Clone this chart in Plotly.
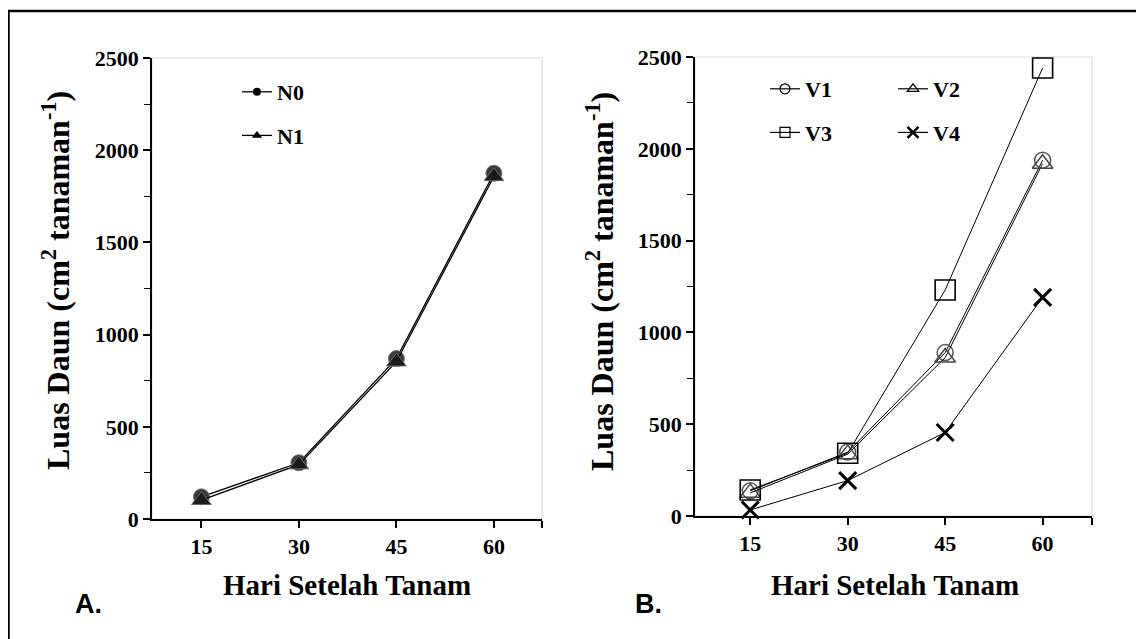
import plotly.graph_objects as go

days = [15, 30, 45, 60]
n0 = [120, 305, 870, 1875]
n1 = [102, 295, 853, 1858]
v1 = [137, 348, 890, 1938]
v2 = [126, 337, 863, 1919]
v3 = [142, 342, 1231, 2440]
v4 = [33, 193, 455, 1191]
y_ticks = [0, 500, 1000, 1500, 2000, 2500]

W, H = 1144, 639
OFF = 8  # page body margin of the viewer
SERIF = "Liberation Serif"

fig = go.Figure()

def px_x(p):
    return (p - OFF) / W

def px_y(p):
    return 1 - (p - OFF) / H

# ---- Panel A ----
fig.add_trace(go.Scatter(x=days, y=n0, mode="lines+markers", xaxis="x", yaxis="y",
                         line=dict(color="black", width=1.3),
                         marker=dict(symbol="circle", size=16, color="#3a3a3a",
                                     line=dict(color="#777", width=1)),
                         showlegend=False, cliponaxis=False))
fig.add_trace(go.Scatter(x=days, y=n1, mode="lines+markers", xaxis="x", yaxis="y",
                         line=dict(color="black", width=1.3),
                         marker=dict(symbol="triangle-up", size=17, color="#1a1a1a",
                                     line=dict(color="#666", width=1)),
                         showlegend=False, cliponaxis=False))
# legend entries A
fig.add_trace(go.Scatter(x=[None], y=[None], mode="lines+markers", name="N0", legend="legend",
                         legendgroup="a0", xaxis="x", yaxis="y",
                         line=dict(color="black", width=1.3),
                         marker=dict(symbol="circle", size=8, color="black")))
fig.add_trace(go.Scatter(x=[None], y=[None], mode="lines+markers", name="N1", legend="legend",
                         legendgroup="a1", xaxis="x", yaxis="y",
                         line=dict(color="black", width=1.3),
                         marker=dict(symbol="triangle-up", size=9, color="black")))

# ---- Panel B ----
styles_b = [
    ("V1", v1, "circle-open", 16, "#555", 1.5, "legend2", "b1"),
    ("V2", v2, "triangle-up-open", 18, "#444", 1.5, "legend3", "b2"),
    ("V3", v3, "square-open", 20, "black", 1.6, "legend2", "b3"),
    ("V4", v4, "x-thin-open", 17, "black", 3, "legend3", "b4"),
]
for name, vals, sym, size, col, lw, leg, grp in styles_b:
    fig.add_trace(go.Scatter(x=days, y=vals, mode="lines+markers", xaxis="x2", yaxis="y2",
                             line=dict(color="black", width=1),
                             marker=dict(symbol=sym, size=size, color=col,
                                         line=dict(color=col, width=lw)),
                             showlegend=False, cliponaxis=False))
for name, vals, sym, size, col, lw, leg, grp in styles_b:
    fig.add_trace(go.Scatter(x=[None], y=[None], mode="lines+markers", name=name, legend=leg,
                             legendgroup=grp, xaxis="x2", yaxis="y2",
                             line=dict(color="black", width=1.2),
                             marker=dict(symbol=sym, size=10 if sym != "x-thin-open" else 11,
                                         color="black",
                                         line=dict(color="black", width=1.2 if sym != "x-thin-open" else 2.5))))

tickfont = dict(family=SERIF, size=22, color="black", weight="bold")

def xaxis(domain, rng):
    return dict(domain=domain, range=rng, tickvals=days + [rng[1]],
                ticktext=[str(d) for d in days] + [""],
                showline=True, linecolor="black", linewidth=1.5,
                ticks="outside", ticklen=7, tickwidth=1.5, tickcolor="black",
                tickfont=tickfont, showgrid=False, zeroline=False, automargin=False)

def yaxis(domain, anchor):
    return dict(domain=domain, range=[0, 2500], tickvals=y_ticks, anchor=anchor,
                showline=True, linecolor="black", linewidth=1.5,
                ticks="outside", ticklen=7, tickwidth=1.5, tickcolor="black",
                minor=dict(ticks="outside", ticklen=6, tickwidth=1.3, tickcolor="black", dtick=250),
                tickfont=tickfont, showgrid=False, zeroline=False, automargin=False)

xa_dom = [px_x(152), px_x(542)]
xb_dom = [px_x(695), px_x(1092)]
ya_dom = [px_y(519), px_y(58)]
yb_dom = [px_y(516), px_y(57)]

legfont = dict(family=SERIF, size=22, color="black", weight="bold")
titlefont = dict(family=SERIF, size=29, color="black", weight="bold")
ytitlefont = dict(family=SERIF, size=32, color="black", weight="bold")

fig.update_layout(
    template="none",
    width=W, height=H, autosize=False,
    margin=dict(l=0, r=0, t=0, b=0, pad=0, autoexpand=False),
    paper_bgcolor="white", plot_bgcolor="white",
    xaxis=dict(**xaxis(xa_dom, [7.4, 67.4]), anchor="y"),
    yaxis=yaxis(ya_dom, "x"),
    xaxis2=dict(**xaxis(xb_dom, [6.5, 67.6]), anchor="y2"),
    yaxis2=yaxis(yb_dom, "x2"),
    legend=dict(x=px_x(237), y=px_y(71), xanchor="left", yanchor="top",
                font=legfont, bgcolor="rgba(0,0,0,0)", tracegroupgap=12, borderwidth=0),
    legend2=dict(x=px_x(765), y=px_y(68), xanchor="left", yanchor="top",
                 font=legfont, bgcolor="rgba(0,0,0,0)", tracegroupgap=12, borderwidth=0),
    legend3=dict(x=px_x(893), y=px_y(68), xanchor="left", yanchor="top",
                 font=legfont, bgcolor="rgba(0,0,0,0)", tracegroupgap=12, borderwidth=0),
    shapes=[
        dict(type="rect", xref="x domain", yref="y domain", x0=0, x1=1, y0=0, y1=1,
             line=dict(color="#dcdcdc", width=1.2), layer="below"),
        dict(type="rect", xref="x2 domain", yref="y2 domain", x0=0, x1=1, y0=0, y1=1,
             line=dict(color="#dcdcdc", width=1.2), layer="below"),
        dict(type="rect", xref="paper", yref="paper", x0=px_x(8.5), x1=1.05,
             y0=-0.05, y1=px_y(11), line=dict(color="black", width=2.5)),
    ],
    annotations=[
        dict(text="Luas Daun (cm<sup>2</sup> tanaman<sup>-1</sup>)", xref="paper", yref="paper",
             x=px_x(56), y=px_y(281), textangle=-90, showarrow=False,
             xanchor="center", yanchor="middle", font=ytitlefont),
        dict(text="Luas Daun (cm<sup>2</sup> tanaman<sup>-1</sup>)", xref="paper", yref="paper",
             x=px_x(600), y=px_y(282), textangle=-90, showarrow=False,
             xanchor="center", yanchor="middle", font=ytitlefont),
        dict(text="Hari Setelah Tanam", xref="paper", yref="paper",
             x=px_x(347), y=px_y(585), showarrow=False,
             xanchor="center", yanchor="middle", font=titlefont),
        dict(text="Hari Setelah Tanam", xref="paper", yref="paper",
             x=px_x(895), y=px_y(585), showarrow=False,
             xanchor="center", yanchor="middle", font=titlefont),
        dict(text="A.", xref="paper", yref="paper", x=px_x(88), y=px_y(604), showarrow=False,
             xanchor="center", yanchor="middle",
             font=dict(family="Liberation Sans", size=27, color="black", weight="bold")),
        dict(text="B.", xref="paper", yref="paper", x=px_x(648), y=px_y(604), showarrow=False,
             xanchor="center", yanchor="middle",
             font=dict(family="Liberation Sans", size=27, color="black", weight="bold")),
    ],
)

fig.write_html("out.html")
